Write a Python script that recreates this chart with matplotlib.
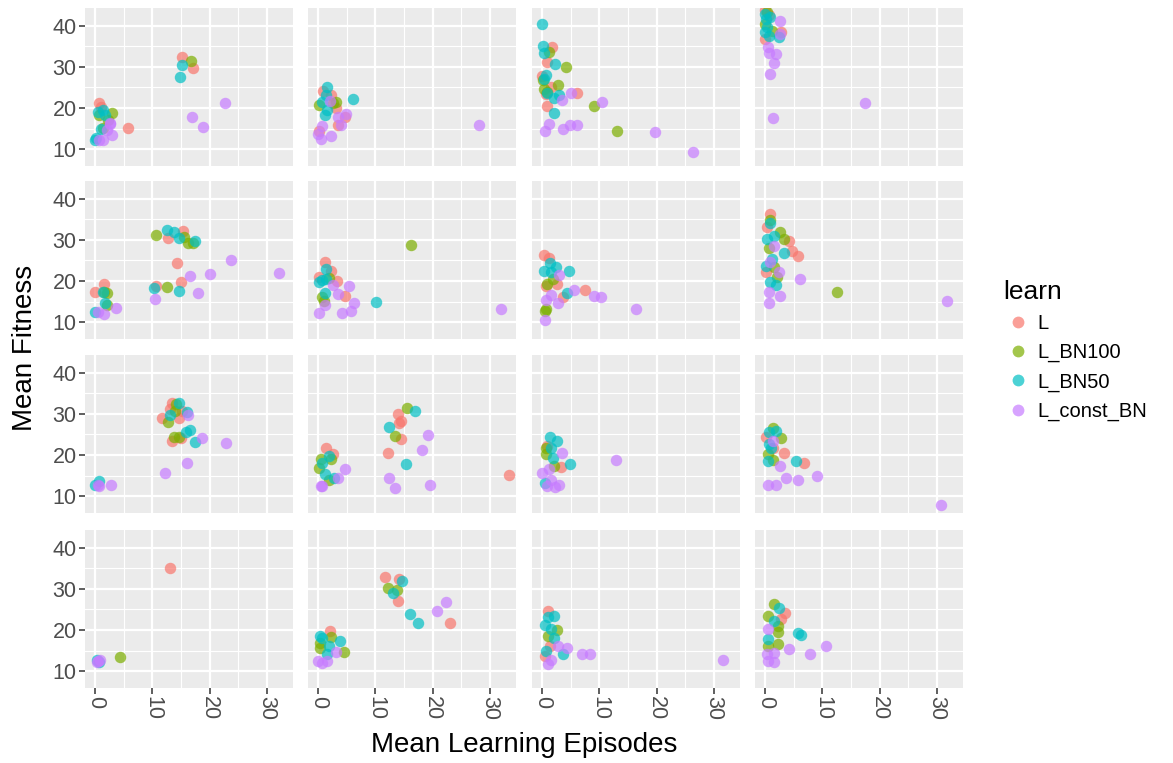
import matplotlib
matplotlib.use('Agg')
import matplotlib.pyplot as plt
from matplotlib.lines import Line2D

plt.rcParams['font.family'] = ['Liberation Sans', 'DejaVu Sans']

groups = ['L', 'L_BN100', 'L_BN50', 'L_const_BN']
colors = {'L': '#F8766D', 'L_BN100': '#7CAE00', 'L_BN50': '#00BFC4', 'L_const_BN': '#C77CFF'}

# one dict per facet, (row, col) -> {group: ([episodes], [fitness])}
panels = {}

panels[(0, 0)] = {
    'L': ([15.2, 17.1, 5.8, 0.6, 1.0], [32.4, 29.6, 15.2, 21.2, 20.3]),
    'L_BN100': ([16.8, 2.9, 0.7, 2.2, 1.3], [31.4, 18.9, 18.2, 17.2, 15.1]),
    'L_BN50': ([15.2, 14.9, 1.3, 0.4, 1.75, 1.0, 0.1, 0.0], [30.4, 27.6, 19.5, 19.0, 18.2, 14.9, 12.6, 12.3]),
    'L_const_BN': ([22.7, 17.0, 18.9, 2.6, 2.5, 2.0, 2.9, 0.7, 1.3], [21.3, 17.9, 15.3, 16.4, 16.2, 14.7, 13.5, 12.3, 12.1]),
}
panels[(0, 1)] = {
    'L': ([0.9, 2.2, 3.1, 4.7, 3.4, 0.1], [24.2, 23.2, 19.9, 17.8, 15.9, 14.5]),
    'L_BN100': ([3.1, 0.1, 2.5], [21.5, 20.7, 21.1]),
    'L_BN50': ([6.0, 1.6, 1.3, 0.7, 1.2, 1.6], [22.1, 25.0, 23.2, 21.5, 18.2, 19.5]),
    'L_const_BN': ([28.2, 2.0, 4.8, 3.4, 3.9, 0.7, 0.0, 0.5, 2.2], [15.9, 21.7, 18.6, 17.8, 15.9, 15.6, 13.7, 12.5, 13.3]),
}
panels[(0, 2)] = {
    'L': ([1.7, 0.9, 0.0, 1.5, 0.6, 6.0, 0.8], [34.8, 31.1, 27.7, 25.2, 23.3, 23.6, 20.5]),
    'L_BN100': ([1.2, 4.2, 0.2, 2.8, 0.3, 0.9, 9.0, 13.0], [33.7, 30.0, 26.9, 25.6, 24.6, 24.0, 20.6, 14.5]),
    'L_BN50': ([0.0, 0.2, 0.3, 2.2, 0.6, 0.3, 0.9, 2.1, 2.9, 2.1], [40.4, 35.1, 33.4, 30.8, 27.9, 27.1, 23.6, 22.5, 23.2, 18.9]),
    'L_const_BN': ([3.5, 5.0, 10.4, 1.2, 0.5, 3.6, 4.9, 6.0, 19.8, 26.4], [21.9, 23.6, 21.5, 16.2, 14.3, 14.9, 15.8, 15.9, 14.1, 9.2]),
}
panels[(0, 3)] = {
    'L': ([2.8, 0.0, 0.0, 0.6], [38.4, 36.7, 43.7, 42.7]),
    'L_BN100': ([0.3, 0.0, 1.2], [43.3, 40.4, 38.8]),
    'L_BN50': ([2.4, 0.0, 0.2, 0.3, 0.6, 0.9, 0.0], [37.3, 42.9, 41.6, 39.6, 37.5, 42.2, 38.4]),
    'L_const_BN': ([17.4, 1.3, 0.9, 1.5, 1.8, 0.6, 0.4, 2.5, 2.6], [21.1, 17.6, 28.3, 31.0, 33.2, 33.4, 34.8, 41.2, 38.0]),
}
panels[(1, 0)] = {
    'L': ([0.0, 1.6, 12.7, 15.4, 14.3, 15.0, 10.6], [17.4, 19.3, 30.5, 32.1, 24.3, 19.7, 18.7]),
    'L_BN100': ([1.6, 2.0, 2.0, 10.6, 15.6, 16.2, 17.1, 12.5], [17.4, 17.1, 14.1, 31.1, 30.7, 29.2, 29.2, 18.5]),
    'L_BN50': ([1.4, 1.75, 0.0, 12.5, 13.7, 14.7, 17.4, 10.2, 14.7], [17.4, 14.7, 12.5, 32.5, 31.9, 30.5, 29.6, 18.3, 17.6]),
    'L_const_BN': ([0.4, 1.6, 3.7, 10.4, 16.6, 20.0, 18.0, 23.8, 32.2], [12.4, 12.0, 13.5, 15.6, 21.3, 21.6, 17.0, 25.2, 21.9]),
}
panels[(1, 1)] = {
    'L': ([1.1, 2.2, 0.1, 3.2, 4.6], [24.5, 22.4, 21.0, 19.9, 16.3]),
    'L_BN100': ([16.2, 1.9, 1.0, 0.7], [28.7, 20.7, 15.2, 16.0]),
    'L_BN50': ([10.1, 1.3, 0.2, 1.3, 1.2, 0.7], [15.0, 22.9, 19.8, 20.6, 17.1, 20.2]),
    'L_const_BN': ([32.0, 2.5, 5.4, 3.4, 1.2, 6.3, 5.7, 4.2, 0.2], [13.1, 19.1, 18.8, 16.9, 14.1, 14.6, 12.7, 12.3, 12.3]),
}
panels[(1, 2)] = {
    'L': ([0.3, 1.2, 0.6, 2.6, 7.5, 3.7], [26.2, 25.5, 18.9, 19.3, 17.9, 16.0]),
    'L_BN100': ([1.8, 0.9, 0.6, 0.4], [20.6, 19.3, 13.3, 12.7]),
    'L_BN50': ([1.4, 2.4, 0.3, 1.5, 4.7, 4.4], [24.3, 23.5, 22.4, 22.2, 22.4, 17.1]),
    'L_const_BN': ([2.9, 5.5, 9.0, 10.3, 16.4, 1.5, 0.6, 2.8, 0.4], [21.4, 17.7, 16.4, 16.0, 13.3, 16.6, 15.5, 14.6, 10.5]),
}
panels[(1, 3)] = {
    'L': ([0.8, 0.3, 4.1, 4.7, 5.7, 0.2], [36.4, 33.1, 29.7, 27.2, 26.0, 22.1]),
    'L_BN100': ([0.8, 2.6, 3.2, 0.6, 1.5, 2.1, 12.5], [34.8, 31.9, 30.3, 28.0, 23.5, 21.0, 17.4]),
    'L_BN50': ([0.8, 1.5, 0.3, 3.2, 1.2, 0.2, 0.8, 1.8], [34.0, 30.9, 30.3, 26.9, 25.4, 23.7, 19.8, 19.0]),
    'L_const_BN': ([1.5, 0.9, 2.4, 6.1, 0.6, 2.5, 0.6, 31.8], [28.4, 24.7, 22.1, 20.6, 17.3, 16.4, 14.6, 15.1]),
}
panels[(2, 0)] = {
    'L': ([13.5, 13.0, 11.7, 14.7, 15.2, 13.5, 15.0], [32.6, 31.2, 29.0, 29.0, 30.7, 23.3, 24.2]),
    'L_BN100': ([14.2, 12.7, 13.9, 13.7, 14.7], [32.4, 27.9, 30.7, 24.4, 24.4]),
    'L_BN50': ([0.7, 0.0, 14.7, 13.0, 16.0, 15.9, 16.5, 17.4], [13.6, 12.6, 32.6, 29.6, 30.4, 25.7, 26.1, 23.2]),
    'L_const_BN': ([0.4, 0.7, 2.7, 16.2, 18.7, 22.8, 16.0, 12.2], [12.6, 12.5, 12.8, 29.6, 24.2, 22.8, 18.0, 15.7]),
}
panels[(2, 1)] = {
    'L': ([13.9, 14.5, 14.2, 14.5, 12.2, 33.3, 1.3, 2.5], [30.0, 28.3, 27.7, 24.0, 20.6, 15.1, 21.8, 20.2]),
    'L_BN100': ([15.5, 13.4, 0.4, 0.2, 1.9, 2.2], [31.5, 24.7, 19.0, 16.9, 13.8, 19.0]),
    'L_BN50': ([16.9, 12.4, 15.3, 1.8, 0.7, 1.2, 2.8], [30.8, 26.7, 17.7, 19.8, 18.1, 15.4, 14.4]),
    'L_const_BN': ([19.2, 18.2, 12.3, 13.4, 19.6, 4.7, 3.5, 0.4, 0.7], [24.8, 21.2, 14.4, 12.0, 12.6, 16.7, 14.4, 12.5, 12.5]),
}
panels[(2, 2)] = {
    'L': ([3.2, 0.9], [17.0, 22.2]),
    'L_BN100': ([0.6, 0.6, 2.1], [21.8, 20.2, 17.3]),
    'L_BN50': ([1.35, 2.6, 1.5, 1.8, 4.9, 0.4], [24.4, 23.4, 21.8, 19.3, 17.9, 13.2]),
    'L_const_BN': ([3.4, 12.9, 0.0, 1.2, 1.5, 0.9, 2.3, 2.9], [20.6, 18.7, 15.6, 16.7, 13.8, 12.4, 12.1, 12.8]),
}
panels[(2, 3)] = {
    'L': ([0.2, 3.2, 6.7, 1.3], [24.4, 20.6, 18.1, 21.8]),
    'L_BN100': ([1.3, 2.8, 0.4, 1.3], [26.6, 24.1, 20.2, 18.9]),
    'L_BN50': ([0.7, 1.8, 1.0, 0.4, 5.3, 0.6], [25.5, 25.9, 21.8, 18.5, 18.5, 22.6]),
    'L_const_BN': ([1.4, 2.6, 3.6, 5.7, 9.0, 0.4, 1.8, 30.8], [23.3, 17.3, 14.4, 13.8, 14.8, 12.6, 12.8, 7.9]),
}
panels[(3, 0)] = {
    'L': ([13.1], [35.1]),
    'L_BN100': ([4.4], [13.4]),
    'L_BN50': ([0.3, 0.6], [12.6, 12.3]),
    'L_const_BN': ([0.5, 0.3, 0.8], [12.4, 12.2, 12.6]),
}
panels[(3, 1)] = {
    'L': ([11.6, 14.2, 14.0, 23.1, 2.0], [32.8, 32.3, 27.1, 21.6, 19.8]),
    'L_BN100': ([12.2, 13.7, 2.2, 0.3, 0.3, 4.5], [30.3, 29.7, 18.3, 16.9, 15.7, 14.7]),
    'L_BN50': ([13.1, 14.7, 16.1, 17.5, 0.3, 0.7, 3.8, 1.8, 1.5], [29.1, 31.9, 24.0, 21.6, 18.6, 18.0, 17.4, 16.1, 14.2]),
    'L_const_BN': ([20.8, 22.3, 3.1, 0.0, 1.5, 0.7], [24.5, 26.8, 14.7, 12.4, 12.4, 12.0]),
}
panels[(3, 2)] = {
    'L': ([1.0, 1.3, 0.4], [24.6, 16.1, 13.7]),
    'L_BN100': ([2.6, 1.0], [20.1, 18.6]),
    'L_BN50': ([2.1, 1.0, 0.4, 1.5, 2.1, 3.7, 0.7], [23.5, 23.1, 21.1, 20.2, 18.0, 14.1, 14.9]),
    'L_const_BN': ([31.6, 7.0, 8.3, 4.3, 1.5, 1.0, 2.8], [12.8, 14.2, 14.2, 15.6, 12.8, 11.8, 16.0]),
}
panels[(3, 3)] = {
    'L': ([3.5, 2.7], [24.2, 22.7]),
    'L_BN100': ([1.6, 0.5, 2.3, 2.2, 0.5, 2.2], [26.3, 23.4, 19.4, 16.5, 16.1, 21.0]),
    'L_BN50': ([2.4, 1.6, 0.5, 5.8, 6.3], [25.4, 22.3, 17.8, 19.2, 18.8]),
    'L_const_BN': ([0.5, 4.1, 7.9, 10.7, 0.3, 1.6, 0.5, 1.6], [20.2, 15.3, 14.1, 16.1, 14.1, 14.5, 12.4, 12.3]),
}

W, H = 1173, 763
fig = plt.figure(figsize=(W / 100, H / 100), dpi=100)

col_left = [85, 308, 532, 755]
row_top = [8, 181, 355, 530]
pw, ph = 208, 158

for (r, c), data in panels.items():
    ax = fig.add_axes([col_left[c] / W, 1 - (row_top[r] + ph) / H, pw / W, ph / H])
    ax.set_facecolor('#EBEBEB')
    for s in ax.spines.values():
        s.set_visible(False)
    ax.set_xlim(-1.8, 34.6)
    ax.set_ylim(5.9, 44.3)
    ax.set_xticks([0, 10, 20, 30])
    ax.set_yticks([10, 20, 30, 40])
    ax.set_xticks([5, 15, 25], minor=True)
    ax.set_yticks([15, 25, 35], minor=True)
    ax.grid(True, which='major', color='white', linewidth=1.6)
    ax.grid(True, which='minor', color='white', linewidth=0.8)
    ax.set_axisbelow(True)
    ax.tick_params(which='minor', length=0)
    ax.tick_params(which='major', length=4, width=1.1, color='#333333',
                   labelsize=15.5, labelcolor='#4D4D4D', pad=2)
    if c != 0:
        ax.tick_params(axis='y', left=False, labelleft=False)
    if r != 3:
        ax.tick_params(axis='x', bottom=False, labelbottom=False)
    else:
        for lab in ax.get_xticklabels():
            lab.set_rotation(-90)
    for g in groups:
        xs, ys = data[g]
        ax.scatter(xs, ys, s=68, color=colors[g], alpha=0.7, linewidths=0, zorder=3)

fig.text(524 / W, 1 - 745 / H, 'Mean Learning Episodes', ha='center', va='center', fontsize=20)
fig.text(25 / W, 1 - 348 / H, 'Mean Fitness', ha='center', va='center', rotation=90, fontsize=20)

handles = [Line2D([], [], marker='o', linestyle='', markersize=8.5, markerfacecolor=colors[g],
                  markeredgewidth=0, alpha=0.7) for g in groups]
leg = fig.legend(handles, groups, title='learn', loc='upper left', bbox_to_anchor=(995 / W, 1 - 272 / H),
                 frameon=False, fontsize=14.5, title_fontsize=19, handletextpad=0.2,
                 labelspacing=0.5, borderaxespad=0, handlelength=1.5)
leg._legend_box.align = 'left'

fig.savefig('out.png', dpi=100)
